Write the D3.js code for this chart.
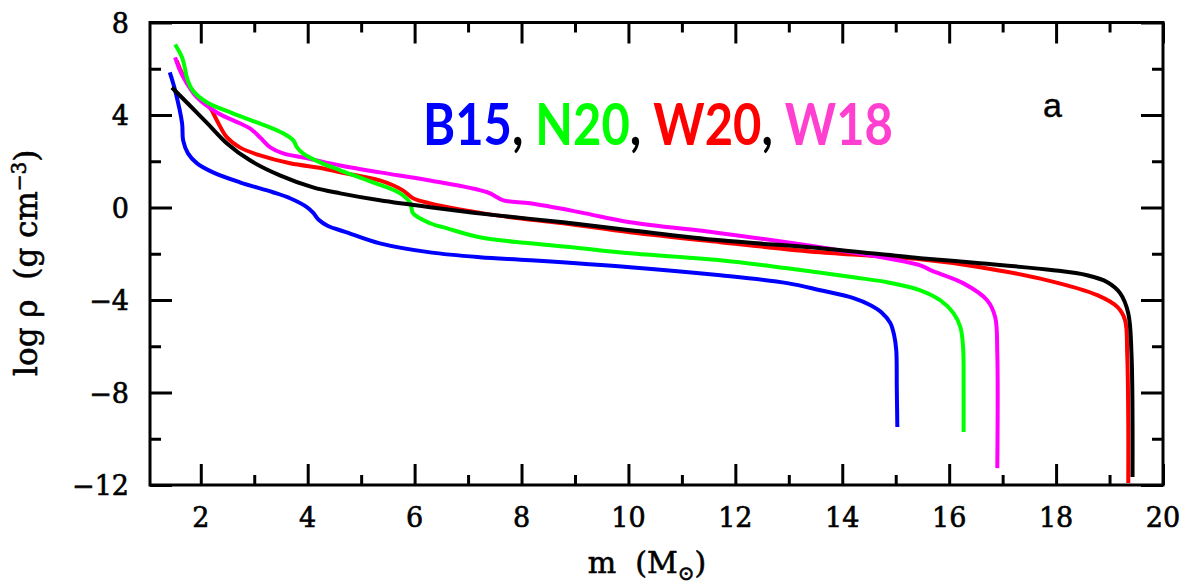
<!DOCTYPE html>
<html>
<head>
<meta charset="utf-8">
<script src="https://cdn.jsdelivr.net/npm/d3@7"></script>
<style>
  body { margin: 0; background: #fff; }
</style>
</head>
<body>
<script>
//density profiles: enclosed mass m (Msun) vs log rho (g cm^-3)
var mB15   = [1.42, 1.52, 1.65, 1.67, 1.76, 1.93, 2.23, 2.73, 3.35, 3.67, 3.99, 4.10, 4.20, 4.38, 4.70, 5.35, 6.29, 7.22, 8.16, 10.03, 11.72, 12.97, 13.59, 14.21, 14.52, 14.75, 14.90, 14.97, 15.01, 15.02, 15.03];
var rhoB15 = [5.84, 5.06, 3.64, 2.90, 2.34, 1.91, 1.52, 1.09, 0.66, 0.40, 0.01, -0.22, -0.52, -0.80, -1.05, -1.55, -1.94, -2.15, -2.28, -2.58, -2.93, -3.27, -3.58, -3.92, -4.22, -4.57, -5.00, -5.52, -6.17, -7.77, -9.49];

var mN20   = [1.52, 1.65, 1.70, 1.74, 1.85, 2.12, 2.60, 3.05, 3.54, 3.73, 3.80, 3.91, 4.23, 4.61, 5.22, 5.73, 5.92, 5.97, 6.29, 6.61, 7.22, 8.16, 9.10, 10.03, 11.72, 12.97, 14.21, 14.84, 15.46, 15.83, 16.08, 16.21, 16.26, 16.27, 16.27];
var rhoN20 = [7.05, 6.49, 6.06, 5.62, 5.06, 4.54, 4.07, 3.68, 3.21, 2.90, 2.60, 2.34, 1.95, 1.61, 1.09, 0.61, 0.18, -0.25, -0.68, -0.90, -1.29, -1.55, -1.76, -1.98, -2.28, -2.63, -3.02, -3.23, -3.58, -4.01, -4.57, -5.18, -6.04, -7.77, -9.71];

var mW20   = [1.55, 1.65, 1.80, 1.98, 2.17, 2.30, 2.49, 2.73, 3.11, 3.67, 4.29, 4.61, 5.35, 5.78, 5.97, 6.29, 7.54, 8.78, 10.03, 11.72, 13.59, 15.46, 16.58, 17.84, 18.77, 19.15, 19.29, 19.33, 19.35, 19.35];
var rhoW20 = [6.35, 5.80, 5.20, 4.70, 4.33, 3.77, 3.03, 2.60, 2.25, 1.91, 1.69, 1.52, 1.17, 0.74, 0.40, 0.18, -0.34, -0.68, -1.07, -1.50, -1.94, -2.24, -2.58, -3.15, -3.79, -4.31, -4.87, -6.30, -9.19, -11.91];

var mW18   = [1.52, 1.61, 1.74, 1.93, 2.30, 2.73, 2.92, 3.11, 3.30, 3.54, 3.99, 4.61, 5.35, 6.29, 7.36, 7.66, 8.16, 9.10, 10.03, 11.72, 13.59, 15.46, 15.65, 16.26, 16.71, 16.86, 16.90, 16.90];
var rhoW18 = [6.49, 5.93, 5.37, 4.76, 4.11, 3.64, 3.42, 3.03, 2.60, 2.34, 2.13, 1.82, 1.52, 1.17, 0.66, 0.31, 0.18, -0.21, -0.64, -1.11, -1.72, -2.50, -2.71, -3.27, -4.01, -4.74, -6.30, -11.27];

var mBlack   = [1.46, 1.80, 2.12, 2.49, 2.92, 3.48, 4.10, 4.61, 5.35, 6.29, 7.54, 8.78, 10.03, 11.72, 13.59, 15.46, 16.58, 17.95, 18.58, 18.96, 19.20, 19.35, 19.41, 19.43];
var rhoBlack = [5.19, 4.40, 3.65, 2.77, 2.04, 1.39, 0.87, 0.61, 0.31, 0.01, -0.34, -0.64, -0.98, -1.42, -1.76, -2.19, -2.41, -2.71, -2.93, -3.23, -3.71, -4.57, -6.30, -11.65];

//tick values
var xMajor = [2, 4, 6, 8, 10, 12, 14, 16, 18, 20];
var xMinor = [3, 5, 7, 9, 11, 13, 15, 17, 19];
var yMajor = [-12, -8, -4, 0, 4, 8];
var yMinor = [-10, -6, -2, 2, 6];

//title pieces
var titleParts  = ["B15", ", ", "N20", ", ", "W20", ", ", "W18"];
var titleColors = ["#0000ff", "#000", "#00ff00", "#000", "#ff0000", "#000", "#ff3fcf"];

var W = 1182, H = 584;
var pL = 150, pR = 1163, pT = 22.5, pB = 485;

var x = d3.scaleLinear().domain([1.05, 20]).range([pL, pR]);
var y = d3.scaleLinear().domain([-12, 8]).range([pB, pT]);

var svg = d3.select("body").append("svg")
    .attr("width", W)
    .attr("height", H)
    .style("display", "block");

//curves first, frame on top
var series = [
  {m: mB15, r: rhoB15, c: "#0000ff"},
  {m: mW20, r: rhoW20, c: "#ff0000"},
  {m: mW18, r: rhoW18, c: "#ff00ff"},
  {m: mN20, r: rhoN20, c: "#00ff00"},
  {m: mBlack, r: rhoBlack, c: "#000000"}
];

var line = d3.line()
    .x(function(d) { return x(d[0]); })
    .y(function(d) { return y(d[1]); })
    .curve(d3.curveCatmullRom.alpha(0.5));

series.forEach(function(s) {
  var pts = s.m.map(function(v, i) { return [v, s.r[i]]; });
  svg.append("path")
     .attr("d", line(pts))
     .attr("fill", "none")
     .attr("stroke", s.c)
     .attr("stroke-width", 4)
     .attr("stroke-linejoin", "round");
});

//inward ticks on all four sides
function styleAxis(g) {
  g.select(".domain").remove();
  g.selectAll(".tick line").attr("stroke", "#000").attr("stroke-width", 3);
}

svg.append("g").attr("transform", "translate(0," + pB + ")")
   .call(d3.axisBottom(x).tickValues(xMajor).tickSize(-21).tickFormat(""))
   .call(styleAxis);
svg.append("g").attr("transform", "translate(0," + pB + ")")
   .call(d3.axisBottom(x).tickValues(xMinor).tickSize(-10).tickFormat(""))
   .call(styleAxis);
svg.append("g").attr("transform", "translate(0," + pT + ")")
   .call(d3.axisTop(x).tickValues(xMajor).tickSize(-21).tickFormat(""))
   .call(styleAxis);
svg.append("g").attr("transform", "translate(0," + pT + ")")
   .call(d3.axisTop(x).tickValues(xMinor).tickSize(-10).tickFormat(""))
   .call(styleAxis);
svg.append("g").attr("transform", "translate(" + pL + ",0)")
   .call(d3.axisLeft(y).tickValues(yMajor).tickSize(-22).tickFormat(""))
   .call(styleAxis);
svg.append("g").attr("transform", "translate(" + pL + ",0)")
   .call(d3.axisLeft(y).tickValues(yMinor).tickSize(-11).tickFormat(""))
   .call(styleAxis);
svg.append("g").attr("transform", "translate(" + pR + ",0)")
   .call(d3.axisRight(y).tickValues(yMajor).tickSize(-22).tickFormat(""))
   .call(styleAxis);
svg.append("g").attr("transform", "translate(" + pR + ",0)")
   .call(d3.axisRight(y).tickValues(yMinor).tickSize(-11).tickFormat(""))
   .call(styleAxis);

svg.append("rect")
   .attr("x", pL).attr("y", pT)
   .attr("width", pR - pL).attr("height", pB - pT)
   .attr("fill", "none").attr("stroke", "#000").attr("stroke-width", 3);

//tick labels, a bit heavier than the plain face
var labFont = "'DejaVu Serif', serif";
svg.selectAll(".xl").data(xMajor).enter().append("text")
   .attr("x", function(d) { return x(d); })
   .attr("y", 527)
   .attr("text-anchor", "middle")
   .attr("stroke", "#000").attr("stroke-width", 0.6)
   .style("font-family", labFont).style("font-size", "27px")
   .text(function(d) { return d; });

svg.selectAll(".yl").data(yMajor).enter().append("text")
   .attr("x", 129)
   .attr("y", function(d) { return y(d) + 10; })
   .attr("text-anchor", "end")
   .attr("stroke", "#000").attr("stroke-width", 0.6)
   .style("font-family", labFont).style("font-size", "27px")
   .text(function(d) { return d < 0 ? "\u2212" + Math.abs(d) : d; });

//axis titles
var xt = svg.append("text")
   .attr("x", 647).attr("y", 573)
   .attr("text-anchor", "middle")
   .attr("stroke", "#000").attr("stroke-width", 0.6)
   .style("font-family", labFont).style("font-size", "30px")
   .attr("xml:space", "preserve");
xt.append("tspan").text("m  (M");
xt.append("tspan").attr("dy", 7).style("font-size", "20px").text("\u2299");
xt.append("tspan").attr("dy", -7).text(")");

var yt = svg.append("text")
   .attr("transform", "translate(37," + ((pT + pB) / 2 + 9) + ")rotate(-90)")
   .attr("text-anchor", "middle")
   .attr("stroke", "#000").attr("stroke-width", 0.6)
   .style("font-family", labFont).style("font-size", "31px")
   .attr("xml:space", "preserve");
yt.append("tspan").text("log \u03c1  (g cm");
yt.append("tspan").attr("dy", -11).style("font-size", "20px").text("\u22123");
yt.append("tspan").attr("dy", 11).text(")");

//model names, laid out piece by piece then squeezed to the reference width
var tg = svg.append("g");
var cx = 0;
titleParts.forEach(function(t, i) {
  var el = tg.append("text")
     .attr("x", cx).attr("y", 0)
     .attr("xml:space", "preserve")
     .attr("fill", titleColors[i])
     .style("font-family", "Lato, 'Open Sans', sans-serif")
     .style("font-weight", "bold")
     .style("font-size", "57px")
     .text(t);
  cx += el.node().getComputedTextLength();
});
var sx = 470 / cx;
tg.attr("transform", "translate(423,145) scale(" + sx + ",1)");

//panel letter
svg.append("text")
   .attr("x", 1043).attr("y", 117)
   .attr("stroke", "#000").attr("stroke-width", 0.4)
   .style("font-family", "'Liberation Sans', Arial, sans-serif")
   .style("font-size", "34px")
   .text("a");
</script>
</body>
</html>
